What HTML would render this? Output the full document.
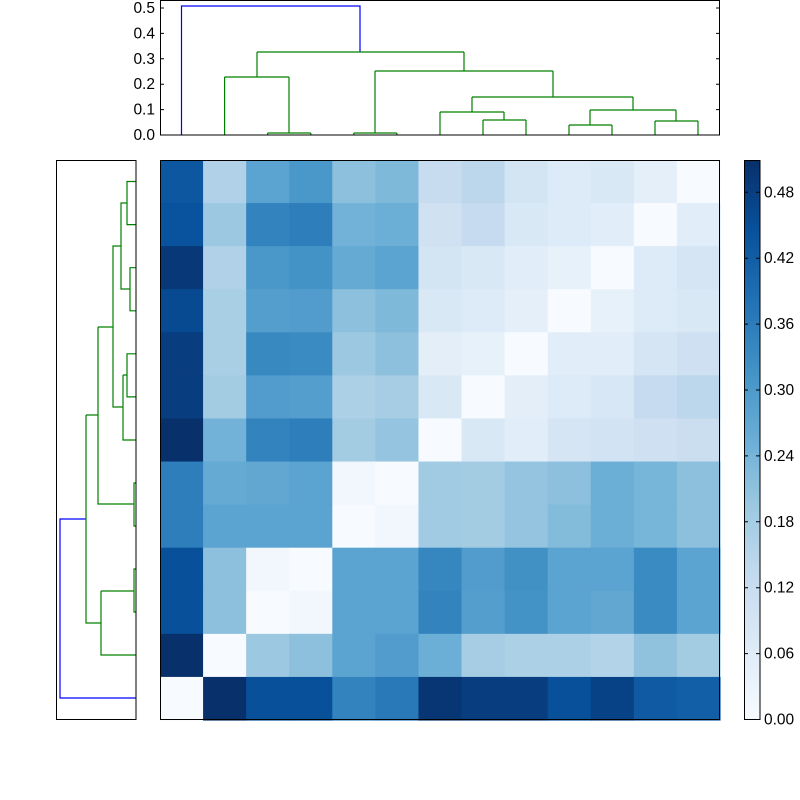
<!DOCTYPE html>
<html><head><meta charset="utf-8"><style>
html,body{margin:0;padding:0;background:#fff;}
svg{display:block;font-family:"Liberation Sans","DejaVu Sans",sans-serif;}
</style></head><body>
<svg id="s" width="800" height="800" xmlns="http://www.w3.org/2000/svg">
<rect width="800" height="800" fill="#fff"/>
<g id="heat"></g>
<rect x="160.5" y="160.5" width="559" height="559" fill="none" stroke="#000" stroke-width="1"/>
<g fill="none" stroke-width="1.2">
<path stroke="#0000ff" d="M181.5,135 V6 H360 V52"/>
<g stroke="#008000">
<path d="M257,52 H464 M257,52 V77 M464,52 V71"/>
<path d="M224.6,77 H289 M224.6,77 V135 M289,77 V133 M267.7,133 H310.8 M267.7,133 V135 M310.8,133 V135"/>
<path d="M375,71 H553 M375,71 V133 M553,71 V97 M353.8,133 H396.9 M353.8,133V135 M396.9,133V135"/>
<path d="M472,97 H633 M472,97 V112 M633,97 V110"/>
<path d="M440,112 H504 M440,112 V135 M504,112 V120 M483,120 H526 M483,120V135 M526,120V135"/>
<path d="M590,110 H676 M590,110 V125 M676,110 V121 M569,125 H612 M569,125V135 M612,125V135 M655,121 H698 M655,121V135 M698,121V135"/>
</g></g>
<rect x="160.5" y="0.5" width="559" height="134.5" fill="none" stroke="#000"/>
<g stroke="#000" id="tt"></g>
<g font-size="15.5" text-anchor="end" id="tl"></g>
<g fill="none" stroke-width="1.2">
<path stroke="#0000ff" d="M136,698 H60 V519 H86"/>
<g stroke="#008000">
<path d="M136,181.5 H127 V224.6 H136"/>
<path d="M127,203 H121 V289 H130 M136,267.7 H130 V310.8 H136"/>
<path d="M121,246 H113 V407 H123 M113,327 H98 M123,375 H127 M136,353.8 H127 V396.9 H136 M123,375 V440 H136"/>
<path d="M86,415 H98 M98,327 V504 H134 M136,483 H134 V526 H136"/>
<path d="M86,415 V623 H101 M101,591 V655 H136 M101,591 H134 M136,569 H134 V612 H136"/>
</g></g>
<rect x="56.5" y="160.5" width="79.5" height="559" fill="none" stroke="#000"/>
<defs><linearGradient id="cb" x1="0" y1="1" x2="0" y2="0">
<stop offset="0" stop-color="#f7fbff"/><stop offset="0.125" stop-color="#deebf7"/><stop offset="0.25" stop-color="#c6dbef"/><stop offset="0.375" stop-color="#9ecae1"/><stop offset="0.5" stop-color="#6baed6"/><stop offset="0.625" stop-color="#4292c6"/><stop offset="0.75" stop-color="#2171b5"/><stop offset="0.875" stop-color="#08519c"/><stop offset="1" stop-color="#08306b"/>
</linearGradient></defs>
<rect x="744.5" y="160.5" width="15.5" height="559" fill="url(#cb)" stroke="#000"/>
<g id="cbt" stroke="#000"></g>
<g id="cbl" font-size="15.5"></g>
</svg>
<script>
var V=[
[0.85,0.32,0.55,0.6,0.42,0.45,0.24,0.28,0.18,0.13,0.15,0.09,0],
[0.87,0.38,0.68,0.7,0.48,0.5,0.2,0.25,0.15,0.13,0.11,0,0.11],
[0.97,0.32,0.6,0.62,0.52,0.55,0.18,0.15,0.11,0.08,0,0.13,0.17],
[0.9,0.34,0.57,0.58,0.42,0.45,0.15,0.13,0.09,0,0.08,0.13,0.15],
[0.95,0.34,0.66,0.65,0.38,0.42,0.1,0.08,0,0.11,0.11,0.17,0.21],
[0.95,0.36,0.58,0.57,0.33,0.35,0.15,0,0.1,0.13,0.16,0.25,0.28],
[1,0.48,0.68,0.7,0.36,0.4,0,0.15,0.11,0.17,0.19,0.21,0.23],
[0.7,0.52,0.53,0.55,0.03,0,0.37,0.36,0.4,0.42,0.5,0.47,0.42],
[0.7,0.55,0.55,0.55,0,0.03,0.37,0.36,0.4,0.44,0.5,0.47,0.42],
[0.88,0.42,0.03,0,0.55,0.55,0.67,0.58,0.63,0.55,0.55,0.65,0.55],
[0.88,0.42,0,0.03,0.55,0.55,0.68,0.57,0.62,0.55,0.53,0.65,0.55],
[1,0,0.38,0.42,0.55,0.58,0.5,0.35,0.33,0.33,0.31,0.41,0.36],
[0,1,0.88,0.88,0.68,0.72,0.98,0.95,0.95,0.88,0.93,0.84,0.82]];
var C=[[247,251,255],[222,235,247],[198,219,239],[158,202,225],[107,174,214],[66,146,198],[33,113,181],[8,81,156],[8,48,107]];
function col(v){v=Math.max(0,Math.min(1,v));var p=v*8,i=Math.min(7,Math.floor(p)),f=p-i;var a=C[i],b=C[i+1];
return "rgb("+[0,1,2].map(function(k){return Math.round(a[k]+(b[k]-a[k])*f)}).join(",")+")";}
var ns="http://www.w3.org/2000/svg",h=document.getElementById("heat"),w=560/13;
for(var r=0;r<13;r++)for(var c=0;c<13;c++){var e=document.createElementNS(ns,"rect");
e.setAttribute("x",160+c*w);e.setAttribute("y",160+r*w);e.setAttribute("width",w+0.6);e.setAttribute("height",w+0.6);
e.setAttribute("fill",col(V[r][c]));h.appendChild(e);}
var tt=document.getElementById("tt"),tl=document.getElementById("tl");
for(var i=0;i<=5;i++){var y=135-i*25.4;
var l=document.createElementNS(ns,"path");l.setAttribute("d","M160,"+y+"h4M720,"+y+"h-4");tt.appendChild(l);
var t=document.createElementNS(ns,"text");t.setAttribute("x",155);t.setAttribute("y",y+5);t.textContent=(i/10).toFixed(1);tl.appendChild(t);}
var cbt=document.getElementById("cbt"),cbl=document.getElementById("cbl");
for(var i=0;i<=8;i++){var y=719.5-i*65.9;
var l=document.createElementNS(ns,"path");l.setAttribute("d","M744,"+y+"h4M760,"+y+"h-4");cbt.appendChild(l);
var t=document.createElementNS(ns,"text");t.setAttribute("x",764);t.setAttribute("y",y+5);t.textContent=(i*0.06).toFixed(2);cbl.appendChild(t);}
</script>
</body></html>
